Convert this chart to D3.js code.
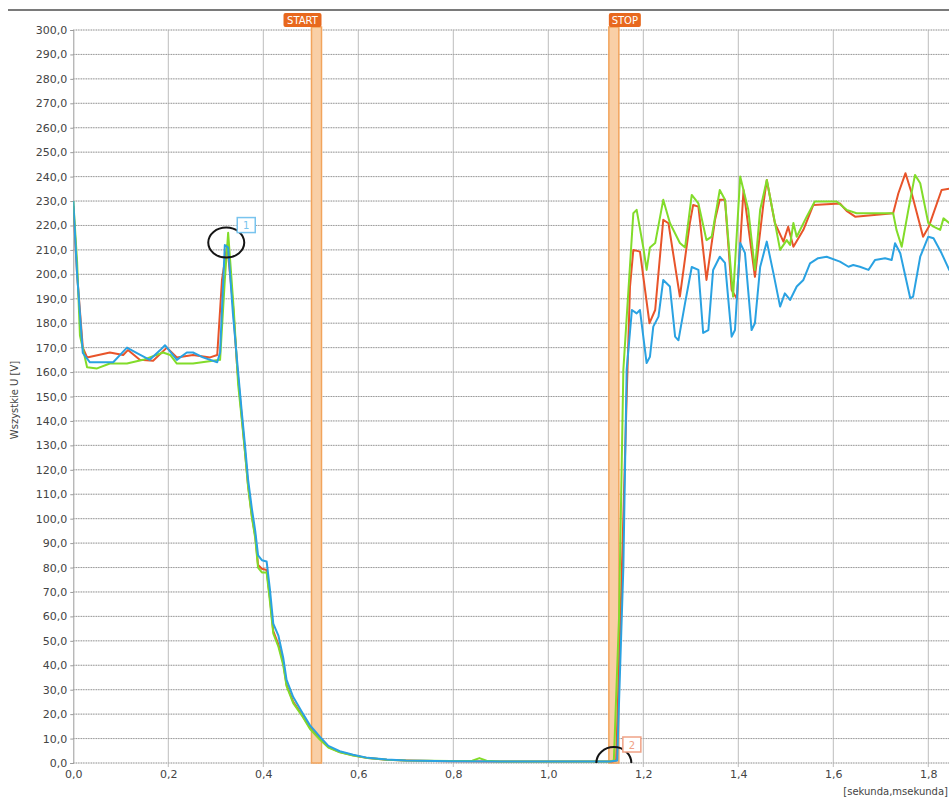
<!DOCTYPE html>
<html>
<head>
<meta charset="utf-8">
<script src="https://cdn.jsdelivr.net/npm/d3@7"></script>
<style>
  html, body { margin: 0; padding: 0; background: #fff; }
  svg { display: block; }
  text { font-family: "DejaVu Sans", Verdana, sans-serif; }
</style>
</head>
<body>
<svg id="chart" width="949" height="799"></svg>
<script>
// ---------------- DATA ----------------
const yTicks = d3.range(0, 301, 10);
const xTicks = [0, 0.2, 0.4, 0.6, 0.8, 1.0, 1.2, 1.4, 1.6, 1.8];
const yTitle = "Wszystkie U [V]";
const xTitle = "[sekunda,msekunda]";

// [time s, voltage V]
const redSeries = [
  [0,228],[0.008,200],[0.020,170],[0.029,166],[0.077,168],[0.105,167],[0.115,169],[0.140,165],[0.168,164.6],
  [0.197,170],[0.218,166],[0.252,167],[0.288,166],[0.303,167],[0.313,197.7],[0.324,212],[0.336,188],[0.345,162],
  [0.355,141],[0.361,128.5],[0.368,113.5],[0.376,101],[0.383,93],[0.389,81],[0.397,79.5],[0.407,79],[0.414,67.5],
  [0.421,54],[0.432,48.5],[0.442,41],[0.449,32],[0.463,25],[0.481,19.8],[0.498,14.5],[0.519,10],[0.537,6.5],
  [0.561,4.5],[0.589,3.2],[0.620,2],[0.660,1.3],[0.700,1],[0.790,0.7],[0.898,0.6],[1.025,0.6],[1.135,0.6],
  [1.143,1],[1.155,80],[1.165,150],[1.172,195],[1.179,210],[1.193,209.3],[1.213,180],[1.225,185.4],[1.242,222.3],
  [1.253,220.9],[1.277,190.9],[1.298,221],[1.305,228.4],[1.316,227.7],[1.333,197.7],[1.351,222.3],[1.361,230.5],
  [1.372,230.5],[1.386,193.6],[1.397,190],[1.411,234.5],[1.435,199],[1.453,229],[1.460,238.6],[1.477,221],
  [1.495,213.4],[1.505,219.5],[1.516,211.3],[1.537,218.2],[1.558,228.4],[1.614,229],[1.628,226],[1.646,223.6],
  [1.726,225],[1.737,233.2],[1.752,241.4],[1.765,233.2],[1.789,215.4],[1.801,219.5],[1.828,234.5],[1.844,235],
  [1.856,235]
];
const greenSeries = [
  [0,230],[0.008,205],[0.014,175],[0.029,162],[0.050,161.5],[0.077,163.5],[0.113,163.5],[0.147,165],[0.189,168],
  [0.204,167],[0.218,163.5],[0.252,163.5],[0.294,164.6],[0.309,165],[0.319,197.7],[0.326,217],[0.338,185],[0.347,155],
  [0.355,140],[0.361,128],[0.368,113],[0.376,100.5],[0.383,92],[0.389,80],[0.397,78],[0.407,78],[0.414,66],
  [0.421,53],[0.432,47.5],[0.442,40],[0.449,31.5],[0.463,24.5],[0.481,19.5],[0.498,14],[0.519,9.6],[0.537,6.3],
  [0.561,4.4],[0.589,3.1],[0.620,2],[0.660,1.3],[0.700,1],[0.793,0.8],[0.840,0.9],[0.855,2],[0.870,0.9],
  [0.898,0.6],[1.025,0.6],[1.128,0.6],
  [1.138,1],[1.149,60],[1.158,160.9],[1.179,225],[1.186,226.4],[1.200,211],[1.207,201.8],[1.214,211],[1.225,212.8],
  [1.242,230.5],[1.256,221],[1.277,212.8],[1.288,211],[1.302,232.5],[1.316,229],[1.333,214],[1.344,215.4],
  [1.361,234.5],[1.372,230.5],[1.389,190.9],[1.404,240],[1.421,226.4],[1.435,201.8],[1.446,226.4],[1.460,238.6],
  [1.488,210],[1.502,214],[1.509,212],[1.516,221],[1.523,215.4],[1.544,223.6],[1.561,229.8],[1.607,229.8],
  [1.628,226.4],[1.649,225],[1.726,225],[1.733,218.2],[1.744,211.3],[1.758,226.4],[1.772,240.7],[1.783,237.3],
  [1.800,221],[1.811,219.5],[1.825,218.2],[1.832,222.9],[1.844,221],[1.856,221]
];
const blueSeries = [
  [0,230],[0.008,200],[0.020,167.8],[0.035,164],[0.084,164],[0.113,170],[0.134,167.8],[0.161,165],[0.183,169],
  [0.193,171],[0.218,165],[0.239,168],[0.252,168],[0.273,166],[0.303,164],[0.309,168],[0.319,212],[0.326,211],
  [0.336,184],[0.347,160],[0.355,143],[0.361,131],[0.368,116],[0.376,104],[0.383,95],[0.389,85],[0.397,83],
  [0.407,82.5],[0.414,71],[0.421,57],[0.432,52],[0.442,43],[0.449,34],[0.463,27],[0.481,21],[0.498,15.5],
  [0.519,10.8],[0.537,7],[0.561,4.8],[0.589,3.4],[0.620,2.1],[0.660,1.4],[0.700,1],[0.793,0.7],[0.898,0.6],
  [1.025,0.6],[1.130,0.6],
  [1.145,1],[1.158,80],[1.165,161],[1.176,185.4],[1.186,184],[1.193,185.4],[1.207,163.7],[1.214,166.3],
  [1.221,178.6],[1.232,182.7],[1.242,197.7],[1.256,195],[1.267,174.5],[1.274,173],[1.288,188.3],[1.302,203],
  [1.316,201.8],[1.326,176],[1.337,177.2],[1.347,201.8],[1.361,207.2],[1.372,204.7],[1.386,174.5],[1.393,177.2],
  [1.404,212.8],[1.414,208.8],[1.428,177.2],[1.435,180],[1.446,203],[1.460,213.4],[1.474,200.4],[1.488,186.8],
  [1.498,192.2],[1.509,189.5],[1.523,195],[1.537,197.7],[1.551,204.5],[1.568,206.6],[1.586,207.2],[1.614,205.2],
  [1.632,203.1],[1.642,203.8],[1.656,203.1],[1.674,201.8],[1.688,205.9],[1.709,206.6],[1.723,205.9],[1.730,212.7],
  [1.741,208.6],[1.762,190.2],[1.768,190.9],[1.783,207.2],[1.800,215.4],[1.811,214.8],[1.828,208.6],[1.844,201.8],
  [1.856,199]
];
const seriesColors = ["#e8542a", "#82dc2a", "#2aa2e2"];
const seriesList = [redSeries, greenSeries, blueSeries];

const eventNames = ["START", "STOP"];
const eventTimes = [0.512, 1.138];

const markerLabels = ["1", "2"];
const markerTimes = [0.322, 1.138];
const markerValues = [213, 0];
const markerColors = ["#79c4ee", "#f0a286"];

// ---------------- DRAW ----------------
(function () {
const svg = d3.select("#chart");
const W = 949, H = 799;
const pLeft = 73.3, pTop = 30, pBottom = 763;

const x = d3.scaleLinear().domain([0, 1.845]).range([pLeft, pLeft + 475 * 1.845]);
const y = d3.scaleLinear().domain([0, 300]).range([pBottom, pTop]);

svg.append("rect").attr("width", W).attr("height", H).attr("fill", "#fff");

// top rule
svg.append("line").attr("x1", 8).attr("x2", W).attr("y1", 10).attr("y2", 10)
  .attr("stroke", "#7a7a7a").attr("stroke-width", 2);

const defs = svg.append("defs");
defs.append("clipPath").attr("id", "plotclip").append("rect")
  .attr("x", pLeft).attr("y", pTop - 10).attr("width", W - pLeft).attr("height", pBottom - pTop + 10);
defs.append("clipPath").attr("id", "markclip").append("rect")
  .attr("x", 0).attr("y", 0).attr("width", W).attr("height", pBottom);

// vertical grid
svg.append("g").selectAll("line").data(xTicks.filter(d => d > 0)).join("line")
  .attr("x1", d => x(d)).attr("x2", d => x(d))
  .attr("y1", pTop).attr("y2", pBottom + 4)
  .attr("stroke", "#bdbdbd").attr("stroke-width", 1);

// horizontal grid (dotted)
svg.append("g").selectAll("line").data(yTicks).join("line")
  .attr("x1", pLeft).attr("x2", W)
  .attr("y1", d => y(d)).attr("y2", d => y(d))
  .attr("stroke", "#dadada").attr("stroke-width", 1);
svg.append("g").selectAll("line").data(yTicks).join("line")
  .attr("x1", pLeft).attr("x2", W)
  .attr("y1", d => y(d)).attr("y2", d => y(d))
  .attr("stroke", "#8a8a8a").attr("stroke-width", 1).attr("stroke-dasharray", "1,1.5");

// y axis
const fmt = v => v.toFixed(1).replace(".", ",");
const yAxis = svg.append("g").attr("transform", `translate(${pLeft},0)`)
  .call(d3.axisLeft(y).tickValues(yTicks).tickFormat(fmt).tickSize(3).tickPadding(3));
yAxis.select(".domain").attr("stroke", "#9a9a9a");
yAxis.selectAll(".tick line").attr("stroke", "#9a9a9a");
yAxis.selectAll("text").attr("fill", "#444").attr("font-size", "11px")
  .attr("font-family", "DejaVu Sans, Verdana, sans-serif");

// x axis labels
const xAxis = svg.append("g").attr("transform", `translate(0,${pBottom})`)
  .call(d3.axisBottom(x).tickValues(xTicks).tickFormat(fmt).tickSize(0).tickPadding(7));
xAxis.select(".domain").remove();
xAxis.selectAll("text").attr("fill", "#444").attr("font-size", "11px")
  .attr("font-family", "DejaVu Sans, Verdana, sans-serif");

// axis titles
svg.append("text").attr("transform", `translate(18,400) rotate(-90)`)
  .attr("text-anchor", "middle").attr("font-size", "10px").attr("fill", "#444").text(yTitle);
svg.append("text").attr("x", 948).attr("y", 795).attr("text-anchor", "end")
  .attr("font-size", "10px").attr("fill", "#444").text(xTitle);

// event bands
const bands = svg.append("g");
eventTimes.forEach((t) => {
  bands.append("rect")
    .attr("x", x(t) - 5).attr("y", 27).attr("width", 10).attr("height", pBottom - 27)
    .attr("fill", "#f9cfa6").attr("stroke", "#f2a45c").attr("stroke-width", 1.5);
});

// series lines
const line = d3.line().x(d => x(d[0])).y(d => y(d[1]));
const plot = svg.append("g").attr("clip-path", "url(#plotclip)");
seriesList.forEach((s, i) => {
  plot.append("path").datum(s).attr("d", line)
    .attr("fill", "none").attr("stroke", seriesColors[i]).attr("stroke-width", 2)
    .attr("stroke-linejoin", "round");
});

// event labels
eventTimes.forEach((t, i) => {
  const isStart = i === 0;
  const w = isStart ? 38 : 32;
  const bx = isStart ? x(t) + 5 - w : x(t) - 5;
  const g = svg.append("g");
  g.append("rect").attr("x", bx).attr("y", 13).attr("width", w).attr("height", 14).attr("rx", 2)
    .attr("fill", "#e8681e");
  g.append("text").attr("x", bx + w / 2).attr("y", 24).attr("text-anchor", "middle")
    .attr("font-size", "10px").attr("font-family", "Liberation Sans, Arial, sans-serif")
    .attr("fill", "#fff").text(eventNames[i]);
});

// markers
markerLabels.forEach((lab, i) => {
  const cx = x(markerTimes[i]), cy = y(markerValues[i]);
  svg.append("ellipse").attr("cx", cx).attr("cy", cy)
    .attr("rx", i === 0 ? 18 : 17.5).attr("ry", i === 0 ? 15 : 16)
    .attr("fill", "none").attr("stroke", "#151515").attr("stroke-width", 2)
    .attr("clip-path", "url(#markclip)");
  const bx = i === 0 ? cx + 11 : cx + 9;
  const by = i === 0 ? cy - 25 : cy - 26;
  svg.append("rect").attr("x", bx).attr("y", by).attr("width", 18).attr("height", 15)
    .attr("fill", "#fff").attr("stroke", markerColors[i]).attr("stroke-width", 1.5);
  svg.append("text").attr("x", bx + 9).attr("y", by + 11.5).attr("text-anchor", "middle")
    .attr("font-size", "10px").attr("fill", markerColors[i]).text(lab);
});
})();
</script>
</body>
</html>
